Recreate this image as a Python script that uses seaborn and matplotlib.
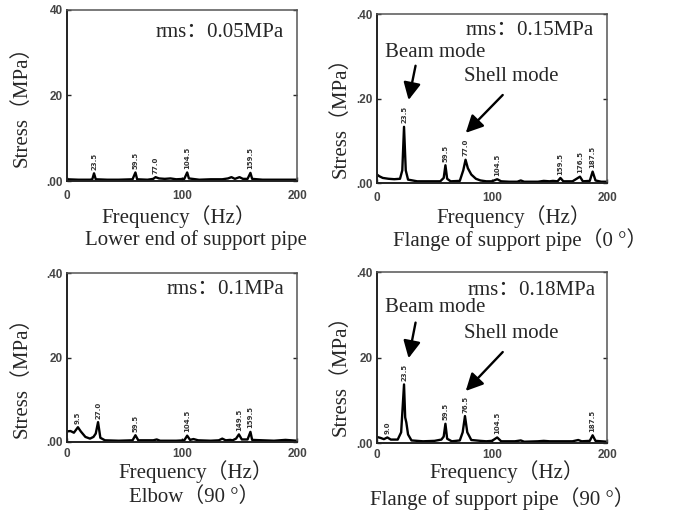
import matplotlib
matplotlib.use("Agg")
import matplotlib.pyplot as plt
import seaborn as sns
import pandas as pd

sns.set_style("ticks")
plt.rcParams['font.family'] = ['Liberation Serif', 'Noto Sans CJK SC', 'DejaVu Sans']

# ---------------- data ----------------
freq_lower = [0, 10, 20, 22, 23.5, 25, 35, 45, 57, 59.5, 61, 70, 75, 77, 80, 85, 90, 95, 102, 104.5, 106,
              115, 125, 135, 140, 143, 146, 150, 153, 157, 159.5, 161, 170, 185, 200]
stress_lower = [0.004, 0.003, 0.003, 0.004, 0.018, 0.004, 0.003, 0.003, 0.004, 0.020, 0.004, 0.003, 0.005,
                0.009, 0.006, 0.005, 0.006, 0.004, 0.005, 0.020, 0.006, 0.003, 0.004, 0.004, 0.006, 0.009,
                0.005, 0.009, 0.005, 0.005, 0.019, 0.005, 0.003, 0.003, 0.003]

freq_fl0 = [0, 2, 5, 10, 15, 20, 22, 23.5, 25, 27, 35, 45, 55, 58, 59.5, 61, 64, 72, 75, 77, 79, 82, 86, 90,
            95, 100, 104.5, 108, 115, 122, 125, 128, 140, 145, 150, 153, 157, 159.5, 162, 170, 176.5, 179,
            185, 187.5, 190, 195, 200]
stress_fl0 = [0.020, 0.016, 0.012, 0.010, 0.009, 0.010, 0.030, 0.133, 0.030, 0.008, 0.004, 0.004, 0.004,
              0.012, 0.042, 0.010, 0.004, 0.005, 0.030, 0.055, 0.035, 0.020, 0.010, 0.006, 0.004, 0.004,
              0.009, 0.004, 0.003, 0.003, 0.006, 0.003, 0.003, 0.005, 0.004, 0.005, 0.004, 0.012, 0.004,
              0.004, 0.015, 0.004, 0.005, 0.027, 0.006, 0.003, 0.003]

freq_elbow = [0, 3, 6, 9.5, 12, 16, 20, 23, 25, 27, 29, 33, 45, 57, 59.5, 62, 75, 78, 81, 95, 102, 104.5,
              107, 110, 114, 125, 132, 135, 138, 142, 144, 147, 149.5, 152, 157, 159.5, 161, 170, 180, 190, 200]
stress_elbow = [0.025, 0.026, 0.022, 0.035, 0.025, 0.012, 0.008, 0.012, 0.020, 0.047, 0.010, 0.004, 0.003,
                0.004, 0.016, 0.004, 0.004, 0.006, 0.003, 0.003, 0.004, 0.015, 0.005, 0.007, 0.004, 0.003,
                0.004, 0.008, 0.004, 0.005, 0.004, 0.008, 0.018, 0.006, 0.006, 0.024, 0.005, 0.004, 0.003,
                0.005, 0.003]

freq_fl90 = [0, 3, 6, 9, 12, 18, 21, 23.5, 24.5, 25.5, 27, 30, 40, 50, 56, 58, 59.5, 61, 65, 72, 74.5, 76.5,
             78.5, 82, 90, 95, 100, 104.5, 108, 120, 125, 128, 140, 145, 150, 160, 170, 175, 178, 185,
             187.5, 190, 200]
stress_fl90 = [0.014, 0.012, 0.009, 0.013, 0.008, 0.008, 0.025, 0.137, 0.060, 0.048, 0.020, 0.006, 0.004,
               0.005, 0.008, 0.015, 0.045, 0.010, 0.004, 0.006, 0.025, 0.063, 0.025, 0.007, 0.005, 0.004,
               0.005, 0.013, 0.004, 0.004, 0.006, 0.003, 0.004, 0.005, 0.004, 0.004, 0.004, 0.007, 0.004,
               0.005, 0.018, 0.005, 0.003]

peaks_lower = [23.5, 59.5, 77.0, 104.5, 159.5]
peaks_fl0 = [23.5, 59.5, 77.0, 104.5, 159.5, 176.5, 187.5]
peaks_elbow = [9.5, 27.0, 59.5, 104.5, 149.5, 159.5]
peaks_fl90 = [9.0, 23.5, 59.5, 76.5, 104.5, 187.5]

ytick_lower = [".00", "20", "40"]
ytick_fl0 = [".00", ".20", ".40"]
ytick_elbow = [".00", "20", ".40"]
ytick_fl90 = [".00", "20", ".40"]
xtick_labels = ["0", "100", "200"]

rms_texts = ["rms：0.05MPa", "rms：0.15MPa", "rms：0.1MPa", "rms：0.18MPa"]
subtitles = ["Lower end of support pipe", "Flange of support pipe（0 °）",
             "Elbow（90 °）", "Flange of support pipe（90 °）"]
ylabel = "Stress（MPa）"
xlabel = "Frequency（Hz）"

FS = 15

# ---------------- figure ----------------
W, H = 681, 511
fig = plt.figure(figsize=(W / 100, H / 100), dpi=100)


def px_axes(left, top, right, bottom):
    return fig.add_axes([left / W, 1 - bottom / H, (right - left) / W, (bottom - top) / H])


panels = [
    dict(box=(67, 10, 297, 181), f=freq_lower, s=stress_lower, peaks=peaks_lower, yt=ytick_lower,
         rms=(0.665, 0.87), xpad=6.5),
    dict(box=(377, 14, 607, 183), f=freq_fl0, s=stress_fl0, peaks=peaks_fl0, yt=ytick_fl0,
         rms=(0.665, 0.905), xpad=6.5),
    dict(box=(67, 273, 297, 442), f=freq_elbow, s=stress_elbow, peaks=peaks_elbow, yt=ytick_elbow,
         rms=(0.687, 0.90), xpad=4.0),
    dict(box=(377, 272, 607, 443), f=freq_fl90, s=stress_fl90, peaks=peaks_fl90, yt=ytick_fl90,
         rms=(0.674, 0.895), xpad=4.5),
]

axes = []
for i, p in enumerate(panels):
    ax = px_axes(*p["box"])
    df = pd.DataFrame({"Frequency": p["f"], "Stress": p["s"]})
    sns.lineplot(data=df, x="Frequency", y="Stress", ax=ax, color="black", linewidth=1.7)
    ax.set_xlim(0, 200)
    ax.set_ylim(0, 0.40)
    ax.set_xticks([0, 100, 200])
    ax.set_xticklabels(xtick_labels)
    ax.set_yticks([0, 0.2, 0.4])
    ax.set_yticklabels(p["yt"])
    ax.set_xlabel("")
    ax.set_ylabel("")
    ax.tick_params(direction="in", length=3, width=1, right=True, top=False,
                   labelsize=8.5, labelcolor="#444444")
    ax.tick_params(axis="x", pad=p["xpad"])
    ax.tick_params(axis="y", pad=3)
    for lab in ax.get_xticklabels() + ax.get_yticklabels():
        lab.set_fontweight("bold")
        lab.set_family("Liberation Sans")
    for side in ["left", "bottom"]:
        ax.spines[side].set_linewidth(1.4)
        ax.spines[side].set_color("#222222")
    for side in ["top", "right"]:
        ax.spines[side].set_linewidth(1.1)
        ax.spines[side].set_color("#555555")
    # peak labels
    for pk in p["peaks"]:
        idx = min(range(len(p["f"])), key=lambda k: abs(p["f"][k] - pk))
        ax.text(pk, p["s"][idx] + 0.008, f"{pk:.1f}", rotation=90, ha="center", va="bottom",
                fontsize=5, color="#333333", family="DejaVu Sans", fontweight="bold")
    ax.text(p["rms"][0], p["rms"][1], rms_texts[i], transform=ax.transAxes, ha="center", va="center",
            fontsize=FS)
    axes.append(ax)

# mode annotations on the flange panels
for ax, (beam_y, beam_tail, beam_tip, shell_y, shell_tail, shell_tip) in [
    (axes[1], (0.31, (34, 0.284), (27, 0.190), 0.251, (111, 0.213), (75.5, 0.114))),
    (axes[3], (0.316, (34, 0.288), (27, 0.192), 0.255, (111, 0.2175), (75.5, 0.117))),
]:
    ax.text(51, beam_y, "Beam mode", ha="center", va="center", fontsize=FS)
    ax.text(117, shell_y, "Shell mode", ha="center", va="center", fontsize=FS)
    ax.annotate("", xy=beam_tip, xytext=beam_tail,
                arrowprops=dict(arrowstyle="-|>", color="black", lw=1.7, mutation_scale=26))
    ax.annotate("", xy=shell_tip, xytext=shell_tail,
                arrowprops=dict(arrowstyle="-|>", color="black", lw=1.7, mutation_scale=26))

# axis titles and subtitles as figure text (pixel positions)
def ftext(x, y, s, **kw):
    fig.text(x / W, 1 - y / H, s, ha="center", va="center", fontsize=FS, **kw)

ftext(22, 101, ylabel, rotation=90)
ftext(341, 112, ylabel, rotation=90)
ftext(22, 372, ylabel, rotation=90)
ftext(341, 370, ylabel, rotation=90)

ftext(179, 217, xlabel)
ftext(514, 217, xlabel)
ftext(196, 472, xlabel)
ftext(507, 472, xlabel)

ftext(196, 240, subtitles[0])
ftext(520, 240, subtitles[1])
ftext(194, 497, subtitles[2])
ftext(502, 499, subtitles[3])

fig.savefig("out.png", dpi=100)
